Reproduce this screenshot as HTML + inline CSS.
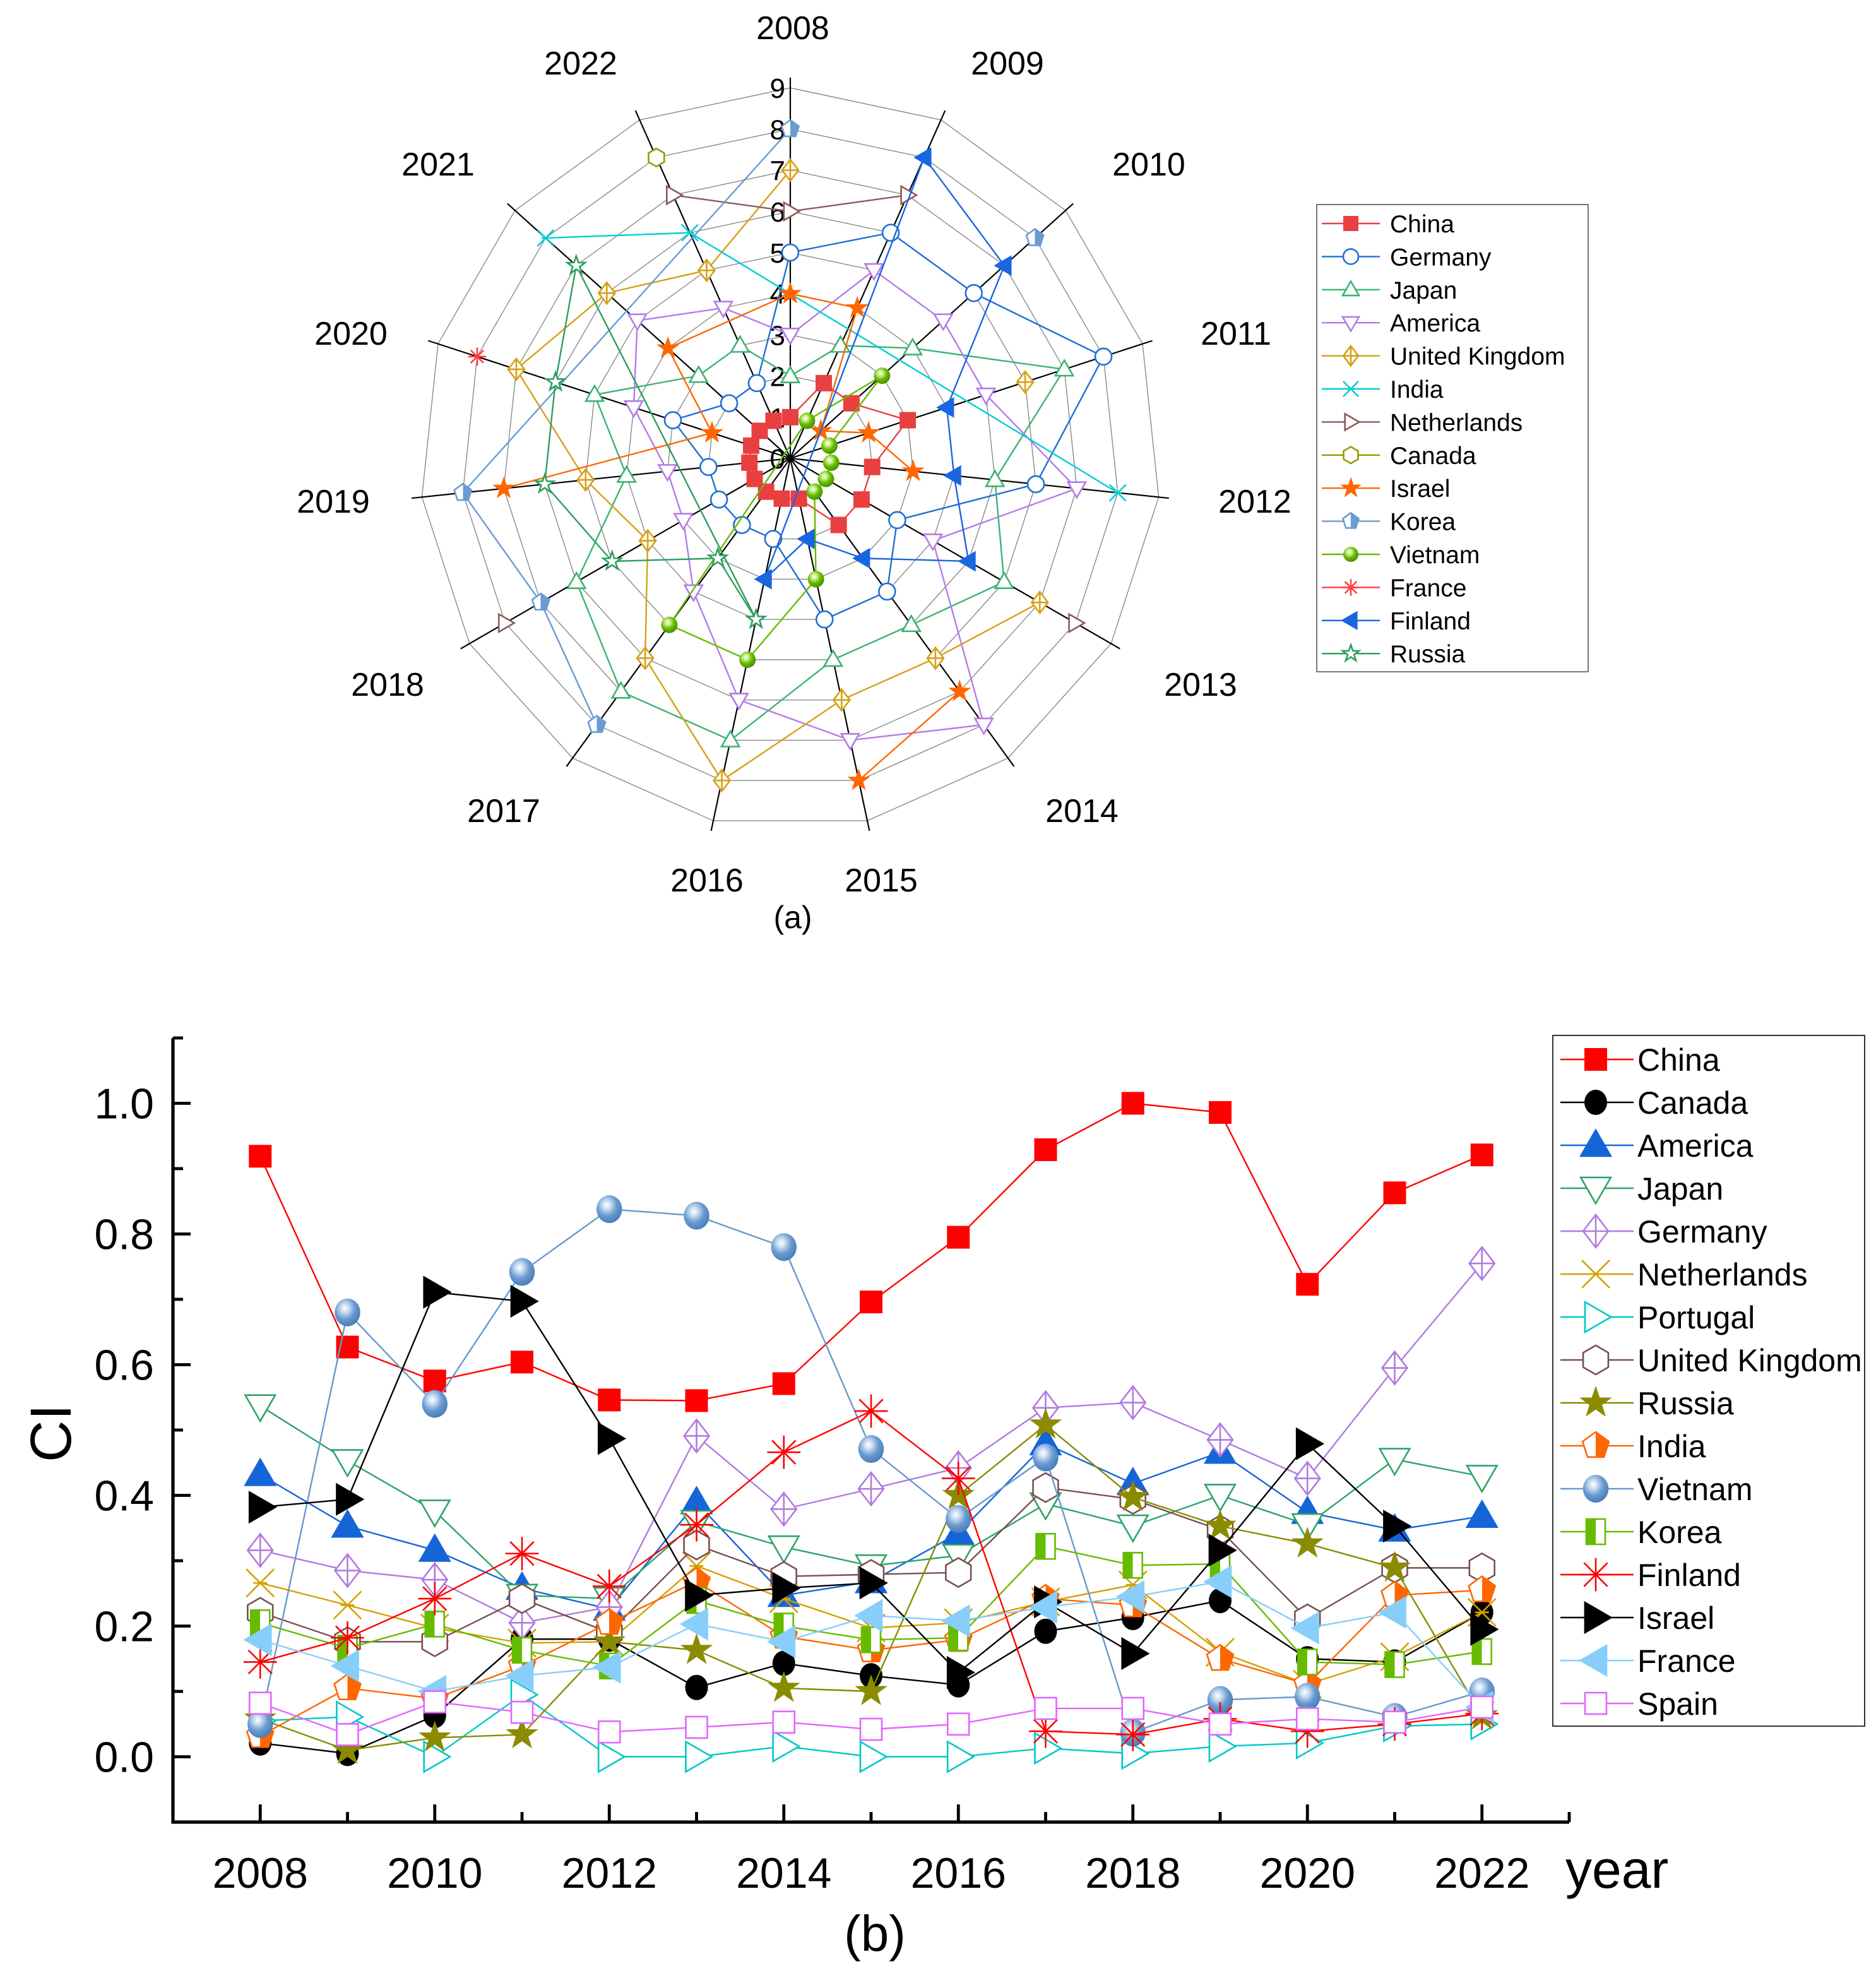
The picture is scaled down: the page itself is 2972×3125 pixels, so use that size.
<!DOCTYPE html>
<html><head><meta charset="utf-8"><style>
html,body{margin:0;padding:0;background:#fff;}
svg{display:block;font-family:"Liberation Sans",Arial,sans-serif;}
</style></head><body>
<svg id="root" xmlns="http://www.w3.org/2000/svg" width="2972" height="3125" viewBox="0 0 1486 1562.5">
<defs>
<radialGradient id="ballG" cx="0.4" cy="0.35" r="0.65"><stop offset="0" stop-color="#ffffff"/><stop offset="0.25" stop-color="#c8dcf0"/><stop offset="0.6" stop-color="#6a9bd1"/><stop offset="1" stop-color="#4a7fb8"/></radialGradient>
<radialGradient id="ballV" cx="0.4" cy="0.35" r="0.65"><stop offset="0" stop-color="#ffffff"/><stop offset="0.25" stop-color="#c8f08a"/><stop offset="0.6" stop-color="#66bb00"/><stop offset="1" stop-color="#4a9000"/></radialGradient>
<linearGradient id="halfKoreaA" x1="0" x2="1" y1="0" y2="0"><stop offset="0.5" stop-color="#fff"/><stop offset="0.5" stop-color="#6a9bd1"/></linearGradient>
<linearGradient id="halfIndia" x1="0" x2="1" y1="0" y2="0"><stop offset="0.5" stop-color="#fff"/><stop offset="0.5" stop-color="#ff6600"/></linearGradient>
<linearGradient id="halfKoreaB" x1="0" x2="1" y1="0" y2="0"><stop offset="0.5" stop-color="#66bb00"/><stop offset="0.5" stop-color="#fff"/></linearGradient>
</defs>
<g id="radar"></g>
<g id="lineb"></g>
</svg>
<script>
const NS="http://www.w3.org/2000/svg";
const years=[2008,2009,2010,2011,2012,2013,2014,2015,2016,2017,2018,2019,2020,2021,2022];
const radarTicks=[0,1,2,3,4,5,6,7,8,9];
// Radar (a) values
const rChina=[1,2,2,3,2,2,2,1,1,1,1,1,1,1,1];
const rGermany=[5,6,6,8,6,3,4,4,2,2,2,2,3,2,2];
const rJapan=[2,3,4,7,5,6,5,5,7,7,6,4,5,3,3];
const rAmerica=[3,5,5,5,7,4,8,7,6,4,3,3,4,5,4];
const rUK=[7,null,null,6,null,7,6,6,8,6,4,5,7,6,5];
const rIndia=[null,null,null,null,8,null,null,null,null,null,null,null,null,8,6];
const rNetherlands=[6,7,null,null,null,8,null,null,null,null,8,null,null,null,7];
const rCanada=[null,null,null,null,null,null,null,null,null,null,null,null,null,null,8];
const rIsrael=[4,4,1,2,3,null,7,8,null,null,null,7,2,4,null];
const rKorea=[8,null,8,null,null,null,null,null,null,8,7,8,null,null,null];
const rVietnam=[null,1,3,1,1,1,1,3,5,5,null,null,null,null,null];
const rFrance=[null,null,null,null,null,null,null,null,null,null,null,null,8,null,null];
const rFinland=[null,8,7,4,4,5,3,2,3,null,null,null,null,null,null];
const rRussia=[null,null,null,null,null,null,null,null,4,3,5,6,6,7,null];
// Line chart (b) values
const bChina=[0.919,0.627,0.575,0.604,0.546,0.545,0.571,0.696,0.795,0.929,1.0,0.986,0.723,0.863,0.921];
const bCanada=[0.021,0.005,0.063,0.18,0.18,0.106,0.143,0.124,0.11,0.192,0.213,0.239,0.15,0.145,0.221];
const bAmerica=[0.432,0.353,0.316,0.258,0.226,0.389,0.247,0.268,0.342,0.479,0.418,0.466,0.374,0.347,0.368];
const bJapan=[0.537,0.453,0.376,0.247,0.242,0.36,0.321,0.292,0.308,0.387,0.353,0.4,0.355,0.455,0.429];
const bGermany=[0.316,0.285,0.271,0.205,0.229,0.491,0.379,0.41,0.442,0.534,0.542,0.485,0.426,0.595,0.755];
const bNetherlands=[0.266,0.232,0.197,0.174,0.176,0.292,0.242,0.197,0.205,0.237,0.263,0.16,0.111,0.153,0.221];
const bPortugal=[0.055,0.061,0,0.095,0,0,0.016,0,0,0.013,0.005,0.016,0.021,0.047,0.05];
const bUK=[0.221,0.176,0.176,0.242,0.19,0.324,0.276,0.279,0.282,0.412,0.394,0.347,0.211,0.289,0.289];
const bRussia=[0.058,0.01,0.029,0.034,0.176,0.163,0.105,0.1,0.4,0.508,0.397,0.353,0.326,0.289,0.063];
const bIndia=[0.032,0.105,0.089,0.139,0.205,0.268,0.184,0.163,0.179,0.242,0.232,0.15,0.111,0.247,0.255];
const bVietnam=[0.05,0.68,0.54,0.742,0.838,0.828,0.78,0.471,0.364,0.458,0.037,0.087,0.092,0.061,0.1];
const bKorea=[0.205,0.166,0.203,0.163,0.139,0.239,0.2,0.179,0.182,0.322,0.293,0.295,0.145,0.141,0.161];
const bFinland=[0.145,0.182,0.242,0.311,0.261,0.355,0.466,0.529,0.426,0.039,0.034,0.058,0.039,0.05,0.066];
const bIsrael=[0.382,0.394,0.711,0.697,0.487,0.247,0.258,0.266,0.129,0.237,0.158,0.316,0.479,0.353,0.195];
const bFrance=[0.179,0.139,0.1,0.124,0.137,0.203,0.176,0.216,0.208,0.229,0.245,0.268,0.197,0.221,0.076];
const bSpain=[0.082,0.034,0.084,0.068,0.038,0.045,0.053,0.042,0.05,0.074,0.074,0.05,0.058,0.053,0.076];
const yTicks=[0.0,0.2,0.4,0.6,0.8,1.0];
const yTickLabels=["0.0","0.2","0.4","0.6","0.8","1.0"];
const xTickYears=[2008,2010,2012,2014,2016,2018,2020,2022];

function mk(tag,attrs,parent){const e=document.createElementNS(NS,tag);for(const k in attrs)e.setAttribute(k,attrs[k]);parent.appendChild(e);return e;}
function pts(a){return a.map(p=>p[0].toFixed(2)+","+p[1].toFixed(2)).join(" ");}
function poly(n,r,x,y,rot){const a=[];for(let k=0;k<n;k++){const t=(rot+k*360/n)*Math.PI/180;a.push([x+r*Math.cos(t),y+r*Math.sin(t)]);}return a;}
function marker(g,shape,x,y,s,color,name){
  const grp=mk("g",{},g);
  
  
  const sw=1.3;
  switch(shape){
    case "sq": mk("rect",{x:x-s,y:y-s,width:2*s,height:2*s,fill:color},grp);break;
    case "sqo": mk("rect",{x:x-s,y:y-s,width:2*s,height:2*s,fill:"#fff",stroke:color,"stroke-width":sw},grp);break;
    case "sqh": mk("rect",{x:x-s*0.75,y:y-s,width:1.5*s,height:2*s,fill:"url(#halfKoreaB)",stroke:color,"stroke-width":sw},grp);break;
    case "ci": mk("ellipse",{cx:x,cy:y,rx:s*0.9,ry:s,fill:color},grp);break;
    case "cio": mk("circle",{cx:x,cy:y,r:s,fill:"#fff",stroke:color,"stroke-width":sw},grp);break;
    case "ball": mk("ellipse",{cx:x,cy:y,rx:s*0.92,ry:s,fill:"url(#ballG)"},grp);break;
    case "ballv": mk("circle",{cx:x,cy:y,r:s,fill:"url(#ballV)"},grp);break;
    case "tu": case "tuo": mk("polygon",{points:pts(poly(3,s*1.25,x,y+s*0.15,-90)),fill:shape=="tu"?color:"#fff",stroke:color,"stroke-width":sw},grp);break;
    case "tdo": mk("polygon",{points:pts(poly(3,s*1.25,x,y-s*0.15,90)),fill:"#fff",stroke:color,"stroke-width":sw},grp);break;
    case "tr": case "tro": mk("polygon",{points:pts(poly(3,s*1.25,x-s*0.15,y,0)),fill:shape=="tr"?color:"#fff",stroke:color,"stroke-width":sw},grp);break;
    case "tl": mk("polygon",{points:pts(poly(3,s*1.25,x+s*0.15,y,180)),fill:color,stroke:color,"stroke-width":sw},grp);break;
    case "dp": mk("polygon",{points:pts([[x,y-s*1.3],[x+s,y],[x,y+s*1.3],[x-s,y]]),fill:"#fff",stroke:color,"stroke-width":sw},grp);
      mk("path",{d:`M${x-s},${y}H${x+s}M${x},${y-s*1.3}V${y+s*1.3}`,stroke:color,"stroke-width":sw},grp);break;
    case "xx": mk("path",{d:`M${x-s},${y-s}L${x+s},${y+s}M${x+s},${y-s}L${x-s},${y+s}M${x-s*0.5},${y}H${x+s*0.5}`,stroke:color,"stroke-width":sw,fill:"none"},grp);break;
    case "hex": mk("polygon",{points:pts(poly(6,s*1.15,x,y,90)),fill:"#fff",stroke:color,"stroke-width":sw},grp);break;
    case "hexo": mk("polygon",{points:pts(poly(6,s*1.1,x,y,90)),fill:"#fff",stroke:color,"stroke-width":sw},grp);break;
    case "st": case "sto": {const a=[];for(let k=0;k<10;k++){const r=k%2?s*0.45:s*1.15;const t=(-90+k*36)*Math.PI/180;a.push([x+r*Math.cos(t),y+r*Math.sin(t)]);}
      mk("polygon",{points:pts(a),fill:shape=="st"?color:"#fff",stroke:color,"stroke-width":sw},grp);break;}
    case "penA": mk("polygon",{points:pts(poly(5,s*1.1,x,y,-90)),fill:"url(#halfKoreaA)",stroke:color,"stroke-width":sw},grp);break;
    case "penI": mk("polygon",{points:pts(poly(5,s*1.1,x,y,-90)),fill:"url(#halfIndia)",stroke:color,"stroke-width":sw},grp);break;
    case "ast": {let d="";for(let k=0;k<4;k++){const t=k*45*Math.PI/180;d+=`M${x-s*1.1*Math.cos(t)},${y-s*1.1*Math.sin(t)}L${x+s*1.1*Math.cos(t)},${y+s*1.1*Math.sin(t)}`;}
      mk("path",{d:d,stroke:color,"stroke-width":sw,fill:"none"},grp);break;}
  }
  return grp;
}

// ================= Radar =================
const R=document.getElementById("radar");
const CX=626,CY=363,U=32.6;
const labelPos=[[628,22],[798,50],[910,130],[979,264],[994,397],[951,542],[857,642],[698,697],[560,697],[399,642],[307,542],[264,397],[278,264],[347,130],[460,50]];
function rp(i,v){const t=i*24*Math.PI/180;return [CX+v*U*Math.sin(t),CY-v*U*Math.cos(t)];}
for(const v of radarTicks.slice(1)){
  const ring=mk("polygon",{points:pts(years.map((y,i)=>rp(i,v))),fill:"none",stroke:"#8a8a8a","stroke-width":0.7},R);
  
  
}
years.forEach((yr,i)=>{
  const p=rp(i,9.25);
  const ax=mk("line",{x1:CX,y1:CY,x2:p[0],y2:p[1],stroke:"#000","stroke-width":1.1},R);
  
  
  const q=labelPos[i];
  const lb=mk("text",{x:q[0],y:q[1]+9,"text-anchor":"middle","font-size":26},R);
  lb.textContent=yr;
  
  
});
radarTicks.forEach(v=>{
  const tl=mk("text",{x:622,y:CY-v*U+8,"text-anchor":"end","font-size":22},R);
  tl.textContent=v;
  
  
});
const radarSeries=[
 ["China",rChina,"#e84040","sq"],["Germany",rGermany,"#1f6fd6","cio"],["Japan",rJapan,"#3cb371","tuo"],
 ["America",rAmerica,"#b57be6","tdo"],["United Kingdom",rUK,"#d4a017","dp"],["India",rIndia,"#00ced1","xx"],
 ["Netherlands",rNetherlands,"#8b5a5a","tro"],["Canada",rCanada,"#999900","hexo"],["Israel",rIsrael,"#ff6600","st"],
 ["Korea",rKorea,"#6a9bd1","penA"],["Vietnam",rVietnam,"#66bb00","ballv"],["France",rFrance,"#ff4040","ast"],
 ["Finland",rFinland,"#1a66e0","tl"],["Russia",rRussia,"#2e9e5e","sto"]];
radarSeries.forEach(([nm,data,col,shp])=>{
  const slug=nm.toLowerCase().replace(/ /g,'-');
  const g=mk("g",{},R);
  
  
  const idx=[];data.forEach((v,i)=>{if(v!==null)idx.push(i);});
  let d="";
  for(let k=0;k<idx.length-1;k++){if(idx[k+1]===idx[k]+1){const a=rp(idx[k],data[idx[k]]),b=rp(idx[k+1],data[idx[k+1]]);d+=`M${a[0]},${a[1]}L${b[0]},${b[1]}`;}}
  if(idx.length>1){const a=rp(idx[idx.length-1],data[idx[idx.length-1]]),b=rp(idx[0],data[idx[0]]);d+=`M${a[0]},${a[1]}L${b[0]},${b[1]}`;}
  if(d){const ln=mk("path",{d:d,stroke:col,"stroke-width":1.2,fill:"none"},g);
    
    }
  idx.forEach(i=>{const p=rp(i,data[i]);marker(g,shp,p[0],p[1],6.5,col,'radar-point-'+slug+'-'+years[i]);});
});
// legend a
const LA=mk("g",{},R);


const lab=mk("rect",{x:1043,y:162,width:215,height:370,fill:"#fff",stroke:"#555","stroke-width":0.8},LA);


radarSeries.forEach(([nm,data,col,shp],k)=>{
  const y=177+k*26.2;
  const slug=nm.toLowerCase().replace(/ /g,'-');
  const ll=mk("line",{x1:1047,y1:y,x2:1093,y2:y,stroke:col,"stroke-width":1.2},LA);
  
  
  marker(LA,shp,1070,y,6,col,'radar-legend-marker-'+slug);
  const tx=mk("text",{x:1101,y:y+7,"font-size":19.5},LA);
  tx.textContent=nm;
  
  
});
const capA=mk("text",{x:628,y:735,"text-anchor":"middle","font-size":25},R);
capA.textContent="(a)";



// ================= Line chart (b) =================
const B=document.getElementById("lineb");
const X0=137,X1=1243,YB=1443,YT=822;
function xs(yr){return X0+(yr-2007)*(X1-X0)/16;}
function ys(v){return YB-(v+0.1)*(YB-YT)/1.2;}
const axL=mk("line",{x1:X0,y1:YT,x2:X0,y2:YB+1.2,stroke:"#000","stroke-width":2.6},B);


const axB=mk("line",{x1:X0-1.2,y1:YB,x2:X1,y2:YB,stroke:"#000","stroke-width":2.6},B);


for(let k=-1;k<=11;k++){const v=k/10;const major=(k%2===0);
  const tk=mk("line",{x1:X0,y1:ys(v),x2:X0+(major?14:8),y2:ys(v),stroke:"#000","stroke-width":2.4},B);
  
  }
yTicks.forEach((v,k)=>{
  const t=mk("text",{x:122,y:ys(v)+12,"text-anchor":"end","font-size":34},B);
  t.textContent=yTickLabels[k];
  
  });
for(let yr=2007;yr<=2023;yr++){const major=(yr%2===0);
  const tk=mk("line",{x1:xs(yr),y1:YB,x2:xs(yr),y2:YB-(major?14:8),stroke:"#000","stroke-width":2.4},B);
  
  }
xTickYears.forEach(yr=>{
  const t=mk("text",{x:xs(yr),y:1495,"text-anchor":"middle","font-size":34},B);
  t.textContent=yr;
  
  });
const xt=mk("text",{x:1240,y:1495,"font-size":42},B);
xt.textContent="year";


const yt=mk("text",{x:56,y:1135,"text-anchor":"middle","font-size":46,transform:"rotate(-90 56 1135)"},B);
yt.textContent="CI";


const capB=mk("text",{x:693,y:1545,"text-anchor":"middle","font-size":40},B);
capB.textContent="(b)";



const lineSeries=[
 ["China",bChina,"#ff0000","sq",9],["Canada",bCanada,"#000000","ci",10],["America",bAmerica,"#1565d8","tu",11],
 ["Japan",bJapan,"#2ea36a","tdo",11],["Germany",bGermany,"#b27adf","dp",10],["Netherlands",bNetherlands,"#d4a000","xx",11],
 ["Portugal",bPortugal,"#00c8c8","tro",11],["United Kingdom",bUK,"#7b4f4f","hex",10],["Russia",bRussia,"#8b8b00","st",10],
 ["India",bIndia,"#ff6600","penI",10],["Vietnam",bVietnam,"#6699cc","ball",11],["Korea",bKorea,"#66bb00","sqh",10],
 ["Finland",bFinland,"#ff0000","ast",12],["Israel",bIsrael,"#000000","tr",11],["France",bFrance,"#87cefa","tl",11],
 ["Spain",bSpain,"#e066ff","sqo",8.5]];
lineSeries.forEach(([nm,data,col,shp,s])=>{
  const slug=nm.toLowerCase().replace(/ /g,'-');
  const g=mk("g",{},B);
  
  
  const ln=mk("polyline",{points:pts(data.map((v,i)=>[xs(years[i]),ys(v)])),fill:"none",stroke:col,"stroke-width":1.2},g);
  
  
  data.forEach((v,i)=>{marker(g,shp,xs(years[i]),ys(v),s,col,'point-'+slug+'-'+years[i]);});
});
// legend b
const LB=mk("g",{},B);


const lbb=mk("rect",{x:1230,y:820,width:247,height:547,fill:"#fff",stroke:"#333","stroke-width":1},LB);


lineSeries.forEach(([nm,data,col,shp,s],k)=>{
  const y=839+k*34;
  const slug=nm.toLowerCase().replace(/ /g,'-');
  const ll=mk("line",{x1:1236,y1:y,x2:1294,y2:y,stroke:col,"stroke-width":1.2},LB);
  
  
  marker(LB,shp,1264,y,s,col,'legend-marker-'+slug);
  const tx=mk("text",{x:1297,y:y+9,"font-size":25},LB);
  tx.textContent=nm;
  
  
});
</script>
</body></html>
